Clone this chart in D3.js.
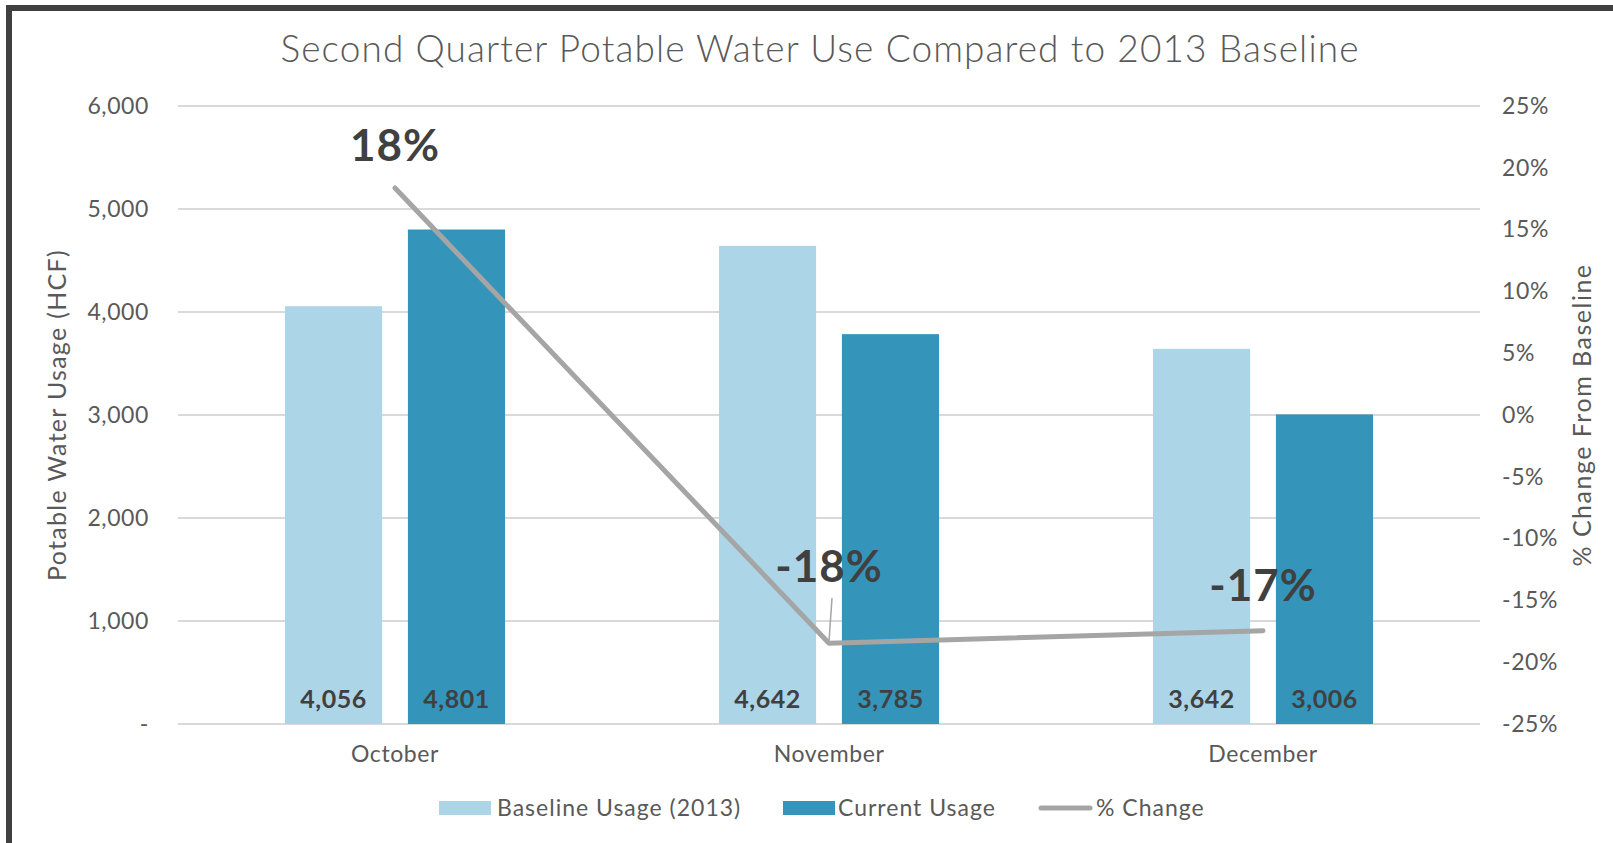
<!DOCTYPE html>
<html>
<head>
<meta charset="utf-8">
<script src="https://cdn.jsdelivr.net/npm/d3@7"></script>
<style>
  body { margin: 0; background: #fff; }
  svg text { font-family: Lato, "Open Sans", sans-serif; }
</style>
</head>
<body>
<div id="chart"></div>
<script>
// data
var months = ["October", "November", "December"];
var baseline = [4056, 4642, 3642];
var current = [4801, 3785, 3006];
var pctChange = [18.37, -18.46, -17.46];
var leftTicks = [0, 1000, 2000, 3000, 4000, 5000, 6000];
var rightTicks = [-25, -20, -15, -10, -5, 0, 5, 10, 15, 20, 25];
var seriesNames = ["Baseline Usage (2013)", "Current Usage", "% Change"];

var W = 1613, H = 843;
var plotL = 178, plotR = 1480, plotT = 106, plotB = 724;
var colBase = "#acd5e7", colCur = "#3494ba", colLine = "#a5a5a5";
var textCol = "#595959", darkText = "#404040";

var svg = d3.select("#chart").append("svg")
    .attr("width", W)
    .attr("height", H);

svg.append("rect").attr("width", W).attr("height", H).attr("fill", "#fff");

// frame (clipped on right and bottom like the screenshot)
svg.append("rect")
    .attr("x", 9).attr("y", 8)
    .attr("width", 1700).attr("height", 900)
    .attr("fill", "none")
    .attr("stroke", "#404040")
    .attr("stroke-width", 6);

var x0 = d3.scaleBand().domain(months).range([plotL, plotR]);
var x1 = d3.scaleBand().domain(["base", "cur"])
    .range([0, x0.bandwidth()])
    .paddingInner(0.21).paddingOuter(0.87);
var y = d3.scaleLinear().domain([0, 6000]).range([plotB, plotT]);
var y2 = d3.scaleLinear().domain([-25, 25]).range([plotB, plotT]);

// title
svg.append("text")
    .attr("x", 820).attr("y", 62)
    .attr("text-anchor", "middle")
    .attr("font-size", 37)
    .attr("font-weight", 300)
    .attr("letter-spacing", 1.1)
    .attr("fill", textCol)
    .text("Second Quarter Potable Water Use Compared to 2013 Baseline");

// gridlines
svg.append("g").selectAll("line")
    .data(leftTicks)
    .enter().append("line")
    .attr("x1", plotL).attr("x2", plotR)
    .attr("y1", d => y(d)).attr("y2", d => y(d))
    .attr("stroke", "#d9d9d9")
    .attr("stroke-width", 2);

function styleTicks(g) {
    g.select(".domain").remove();
    g.selectAll("text")
        .attr("font-size", 23)
        .attr("letter-spacing", 0.6)
        .attr("fill", textCol)
        .attr("font-family", "Lato, sans-serif");
}

// left axis
var yAxis = d3.axisLeft(y).tickValues(leftTicks).tickSize(0).tickPadding(29)
    .tickFormat(d => d === 0 ? "-   " : d3.format(",")(d));
svg.append("g").attr("transform", "translate(" + plotL + ",0)").call(yAxis).call(styleTicks);

// right axis
var yAxis2 = d3.axisRight(y2).tickValues(rightTicks).tickSize(0).tickPadding(22)
    .tickFormat(d => d + "%");
svg.append("g").attr("transform", "translate(" + plotR + ",0)").call(yAxis2).call(styleTicks);

// x axis labels
var xAxis = d3.axisBottom(x0).tickSize(0).tickPadding(22);
svg.append("g").attr("transform", "translate(0," + plotB + ")").call(xAxis).call(styleTicks);

// axis titles
svg.append("text")
    .attr("transform", "translate(66,415) rotate(-90)")
    .attr("text-anchor", "middle")
    .attr("font-size", 25)
    .attr("letter-spacing", 1.3)
    .attr("fill", textCol)
    .text("Potable Water Usage (HCF)");
svg.append("text")
    .attr("transform", "translate(1591,415) rotate(-90)")
    .attr("text-anchor", "middle")
    .attr("font-size", 25)
    .attr("letter-spacing", 1.5)
    .attr("fill", textCol)
    .text("% Change From Baseline");

// bars
var rows = months.map((m, i) => ({ month: m, vals: [
    { key: "base", v: baseline[i] }, { key: "cur", v: current[i] }] }));

var groups = svg.append("g").selectAll("g")
    .data(rows)
    .enter().append("g")
    .attr("transform", d => "translate(" + x0(d.month) + ",0)");

groups.selectAll("rect")
    .data(d => d.vals)
    .enter().append("rect")
    .attr("x", d => x1(d.key))
    .attr("width", x1.bandwidth())
    .attr("y", d => y(d.v))
    .attr("height", d => y(0) - y(d.v))
    .attr("fill", d => d.key === "base" ? colBase : colCur);

groups.selectAll("text")
    .data(d => d.vals)
    .enter().append("text")
    .attr("x", d => x1(d.key) + x1.bandwidth() / 2)
    .attr("y", plotB - 16)
    .attr("text-anchor", "middle")
    .attr("font-size", 25)
    .attr("letter-spacing", 0.5)
    .attr("font-weight", "bold")
    .attr("fill", darkText)
    .text(d => d3.format(",")(d.v));

// % change line
var pts = months.map((m, i) => [x0(m) + x0.bandwidth() / 2, y2(pctChange[i])]);
svg.append("path")
    .attr("d", d3.line()(pts))
    .attr("fill", "none")
    .attr("stroke", colLine)
    .attr("stroke-width", 5)
    .attr("stroke-linecap", "round")
    .attr("stroke-linejoin", "round");

// labels for the line
var labelDy = [-42, -76, -45];
svg.append("line")
    .attr("x1", pts[1][0] + 3).attr("y1", pts[1][1] - 45)
    .attr("x2", pts[1][0]).attr("y2", pts[1][1] - 2)
    .attr("stroke", colLine).attr("stroke-width", 1.5);

svg.append("g").selectAll("text")
    .data(pctChange)
    .enter().append("text")
    .attr("x", (d, i) => pts[i][0])
    .attr("y", (d, i) => pts[i][1] + labelDy[i] + 15)
    .attr("text-anchor", "middle")
    .attr("font-size", 44)
    .attr("font-weight", "bold")
    .attr("letter-spacing", 1)
    .attr("fill", darkText)
    .text(d => Math.round(d) + "%");

// legend
var legend = svg.append("g");
var legX = [439, 783, 1039];
var legTextX = [497, 838, 1096];
legend.append("rect").attr("x", legX[0]).attr("y", 801).attr("width", 52).attr("height", 14).attr("fill", colBase);
legend.append("rect").attr("x", legX[1]).attr("y", 801).attr("width", 52).attr("height", 14).attr("fill", colCur);
legend.append("line").attr("x1", legX[2] + 2).attr("x2", legX[2] + 51).attr("y1", 808).attr("y2", 808)
    .attr("stroke", colLine).attr("stroke-width", 5).attr("stroke-linecap", "round");
legend.selectAll("text")
    .data(seriesNames)
    .enter().append("text")
    .attr("x", (d, i) => legTextX[i])
    .attr("y", 816)
    .attr("font-size", 23)
    .attr("letter-spacing", 1)
    .attr("fill", textCol)
    .text(d => d);
</script>
</body>
</html>
